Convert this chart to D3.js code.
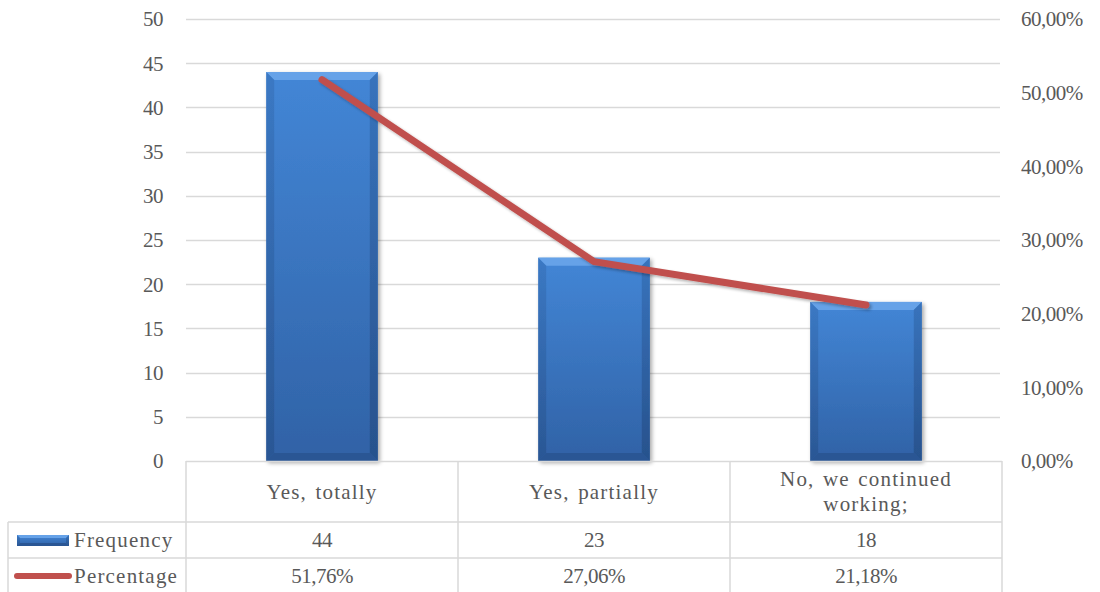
<!DOCTYPE html>
<html>
<head>
<meta charset="utf-8">
<script src="https://cdn.jsdelivr.net/npm/d3@7"></script>
<style>
  html, body { margin: 0; padding: 0; background: #fff; }
</style>
</head>
<body>
<svg id="chart" width="1100" height="592"></svg>
<script>
// Survey answers and their counts / shares
const categories = ["Yes, totally", "Yes, partially", "No, we continued working;"];
const categoryLines = [["Yes, totally"], ["Yes, partially"], ["No, we continued", "working;"]];
const frequency = [44, 23, 18];
const percentage = [51.76, 27.06, 21.18];
const leftTicks = [0, 5, 10, 15, 20, 25, 30, 35, 40, 45, 50];
const rightTicks = [0, 10, 20, 30, 40, 50, 60];
const seriesNames = ["Frequency", "Percentage"];

const fmtPct = v => v.toFixed(2).replace(".", ",") + "%";
const FONT = '"Liberation Serif"';
const FS = "21px";
const TXT = "#595959";

const svg = d3.select("#chart");
const plot = { left: 186, right: 1002, top: 19, bottom: 461 };
const tableLeft = 8, headerBottom = 522, freqBottom = 558, tableBottom = 592;
const grid = "#D9D9D9";

const x = d3.scaleBand().domain(categories).range([plot.left, plot.right]).paddingInner(0.59).paddingOuter(0.295);
const band = d3.scaleBand().domain(categories).range([plot.left, plot.right]);
const yL = d3.scaleLinear().domain([0, 50]).range([plot.bottom, plot.top]);
const yR = d3.scaleLinear().domain([0, 60]).range([plot.bottom, plot.top]);

// gradients for the bevelled bars
const defs = svg.append("defs");
const body = defs.append("linearGradient").attr("id", "barBody").attr("x1", 0).attr("y1", 0).attr("x2", 0).attr("y2", 1);
body.append("stop").attr("offset", 0).attr("stop-color", "#4386D6");
body.append("stop").attr("offset", 1).attr("stop-color", "#3062A6");
const side = defs.append("linearGradient").attr("id", "barSide").attr("x1", 0).attr("y1", 0).attr("x2", 0).attr("y2", 1);
side.append("stop").attr("offset", 0).attr("stop-color", "#3670B8");
side.append("stop").attr("offset", 1).attr("stop-color", "#264F88");
const shadow = defs.append("filter").attr("id", "shadow").attr("x", -0.1).attr("y", -0.1).attr("width", 1.3).attr("height", 1.3);
shadow.append("feGaussianBlur").attr("in", "SourceAlpha").attr("stdDeviation", 2).attr("result", "b");
shadow.append("feOffset").attr("in", "b").attr("dx", 2).attr("dy", 2).attr("result", "o");
shadow.append("feComponentTransfer").attr("in", "o").attr("result", "s")
  .append("feFuncA").attr("type", "linear").attr("slope", 0.35);
const merge = shadow.append("feMerge");
merge.append("feMergeNode").attr("in", "s");
merge.append("feMergeNode").attr("in", "SourceGraphic");
const lineShadow = defs.append("filter").attr("id", "lineShadow").attr("x", -0.1).attr("y", -0.1).attr("width", 1.3).attr("height", 1.3);
lineShadow.append("feGaussianBlur").attr("in", "SourceAlpha").attr("stdDeviation", 1.5).attr("result", "b");
lineShadow.append("feOffset").attr("in", "b").attr("dx", 1.5).attr("dy", 2).attr("result", "o");
lineShadow.append("feComponentTransfer").attr("in", "o").attr("result", "s")
  .append("feFuncA").attr("type", "linear").attr("slope", 0.3);
const m2 = lineShadow.append("feMerge");
m2.append("feMergeNode").attr("in", "s");
m2.append("feMergeNode").attr("in", "SourceGraphic");

// horizontal gridlines
svg.append("g").selectAll("line").data(leftTicks.filter(t => t > 0)).join("line")
  .attr("x1", plot.left).attr("x2", plot.right - 2)
  .attr("y1", d => Math.round(yL(d)) + 0.5).attr("y2", d => Math.round(yL(d)) + 0.5)
  .attr("stroke", grid).attr("stroke-width", 1.5);

// numbers are set a touch tighter, words a touch looser
function numText(sel) {
  sel.attr("font-family", null).attr("font-size", null)
    .style("font-family", FONT).style("font-size", FS).style("fill", TXT).style("letter-spacing", "-0.5px");
}
function wordText(sel) {
  sel.attr("font-family", null).attr("font-size", null)
    .style("font-family", FONT).style("font-size", FS).style("fill", TXT)
    .style("letter-spacing", "1.2px").style("word-spacing", "2px");
}

// left axis
const leftAxis = svg.append("g").attr("transform", `translate(${plot.left - 23},0)`)
  .call(d3.axisLeft(yL).tickValues(leftTicks).tickSize(0).tickPadding(0));
leftAxis.attr("font-family", null).attr("font-size", null);
leftAxis.select(".domain").remove();
leftAxis.selectAll("text").call(numText).attr("dy", "0.33em");

// right axis
const rightAxis = svg.append("g").attr("transform", `translate(${plot.right + 19},0)`)
  .call(d3.axisRight(yR).tickValues(rightTicks).tickSize(0).tickPadding(0).tickFormat(d => fmtPct(d)));
rightAxis.attr("font-family", null).attr("font-size", null);
rightAxis.select(".domain").remove();
rightAxis.selectAll("text").call(numText).attr("dy", "0.33em");

// bevelled bar drawing
function bevelBar(g, x0, y0, w, h, bv) {
  g.append("rect").attr("x", x0).attr("y", y0).attr("width", w).attr("height", h).attr("fill", "url(#barBody)");
  const x1 = x0 + w, y1 = y0 + h;
  bv = Math.min(bv, h / 2);
  g.append("path").attr("d", `M${x0},${y0}L${x1},${y0}L${x1 - bv},${y0 + bv}L${x0 + bv},${y0 + bv}Z`).attr("fill", "#66A2E8");
  g.append("path").attr("d", `M${x0},${y0}L${x0 + bv},${y0 + bv}L${x0 + bv},${y1 - bv}L${x0},${y1}Z`).attr("fill", "url(#barSide)").attr("opacity", 0.6);
  g.append("path").attr("d", `M${x1},${y0}L${x1 - bv},${y0 + bv}L${x1 - bv},${y1 - bv}L${x1},${y1}Z`).attr("fill", "url(#barSide)").attr("opacity", 0.85);
  g.append("path").attr("d", `M${x0},${y1}L${x0 + bv},${y1 - bv}L${x1 - bv},${y1 - bv}L${x1},${y1}Z`).attr("fill", "#2A5694");
}

const bars = svg.append("g");
categories.forEach((c, i) => {
  const g = bars.append("g").attr("filter", "url(#shadow)");
  bevelBar(g, x(c), yL(frequency[i]), x.bandwidth(), plot.bottom - yL(frequency[i]), 8);
});

// percentage line
const line = d3.line().x((d, i) => band(categories[i]) + band.bandwidth() / 2).y(d => yR(d));
svg.append("path").datum(percentage).attr("d", line)
  .attr("fill", "none").attr("stroke", "#C0504D").attr("stroke-width", 7)
  .attr("stroke-linecap", "round").attr("stroke-linejoin", "round").attr("filter", "url(#lineShadow)");

// data table
const tbl = svg.append("g").attr("stroke", grid).attr("stroke-width", 1.5).attr("fill", "none");
tbl.append("line").attr("x1", plot.left).attr("x2", plot.right).attr("y1", plot.bottom + 0.5).attr("y2", plot.bottom + 0.5);
tbl.append("line").attr("x1", tableLeft).attr("x2", plot.right).attr("y1", headerBottom).attr("y2", headerBottom);
tbl.append("line").attr("x1", tableLeft).attr("x2", plot.right).attr("y1", freqBottom).attr("y2", freqBottom);
tbl.append("line").attr("x1", tableLeft).attr("x2", tableLeft).attr("y1", headerBottom).attr("y2", tableBottom);
const vx = categories.map(c => band(c)).concat([plot.right]);
tbl.selectAll(".v").data(vx).join("line").attr("class", "v")
  .attr("x1", d => d).attr("x2", d => d).attr("y1", plot.bottom).attr("y2", tableBottom);

const cells = svg.append("g").attr("text-anchor", "middle");
categories.forEach((c, i) => {
  const cx = band(c) + band.bandwidth() / 2;
  const lines = categoryLines[i];
  const mid = (plot.bottom + headerBottom) / 2;
  lines.forEach((t, k) => {
    cells.append("text").attr("x", cx).attr("y", mid + (k - (lines.length - 1) / 2) * 25).attr("dy", "0.35em").call(wordText).text(t);
  });
  cells.append("text").attr("x", cx).attr("y", (headerBottom + freqBottom) / 2).attr("dy", "0.35em").call(numText).text(frequency[i]);
  cells.append("text").attr("x", cx).attr("y", (freqBottom + tableBottom) / 2 + 1).attr("dy", "0.35em").call(numText).text(fmtPct(percentage[i]));
});

// legend keys in the table
const lg = svg.append("g");
const keyFreq = lg.append("g");
bevelBar(keyFreq, 17, 535, 52, 11, 3);
lg.append("line").attr("x1", 17).attr("x2", 69).attr("y1", 576).attr("y2", 576)
  .attr("stroke", "#C0504D").attr("stroke-width", 6).attr("stroke-linecap", "round");
lg.append("text").attr("x", 74).attr("y", (headerBottom + freqBottom) / 2).attr("dy", "0.35em").call(wordText).text(seriesNames[0]);
lg.append("text").attr("x", 74).attr("y", (freqBottom + tableBottom) / 2 + 1).attr("dy", "0.35em").call(wordText).text(seriesNames[1]);
</script>
</body>
</html>
